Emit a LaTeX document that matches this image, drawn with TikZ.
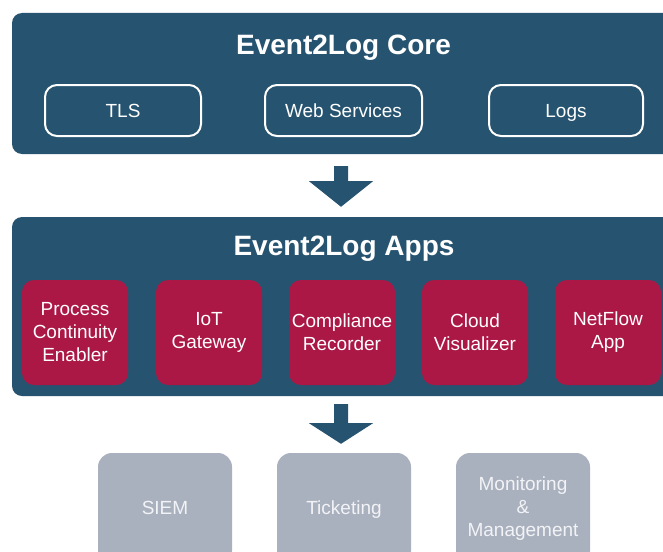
\documentclass[tikz,border=0pt]{standalone}
\usepackage{fontspec}
\setmainfont{Liberation Sans}
\usetikzlibrary{calc}
\definecolor{dblue}{HTML}{26536F}
\definecolor{crimson}{HTML}{AB1846}
\definecolor{lgray}{HTML}{AAB1BE}
\definecolor{gtext}{HTML}{F2F3F6}
\tikzset{
  layer/.style={fill=dblue, rounded corners=10pt, minimum width=668pt, inner sep=0pt},
  ltitle/.style={text=white, font=\bfseries\fontsize{28}{32}\selectfont},
  corebox/.style={draw=white, line width=2pt, rounded corners=12pt, minimum height=51pt, text=white, font=\fontsize{19}{23}\selectfont, inner sep=0pt, text height=13.6pt, text depth=0pt},
  appbox/.style={fill=crimson, rounded corners=12pt, minimum width=106pt, minimum height=105pt, text=white, align=center, font=\fontsize{19}{23}\selectfont, inner sep=0pt},
  outbox/.style={fill=lgray, rounded corners=14pt, minimum width=134pt, minimum height=112pt, inner sep=0pt},
  outlabel/.style={text=gtext, align=center, font=\fontsize{19}{23}\selectfont, inner sep=0pt},
  bigarrow/.style={fill=dblue}
}
\begin{document}
\begin{tikzpicture}[x=1pt,y=-1pt]
\clip (0,0) rectangle (663,551);
\fill[white] (0,0) rectangle (663,551);
% core layer
\node[layer, minimum height=141pt] (core) at (346,83.5) {};
\node[ltitle] (coretitle) at (343.5,47.5) {Event2Log Core};
\node[corebox, minimum width=156pt] (tls) at (123,110.5) {TLS};
\node[corebox, minimum width=157pt] (web) at (343.5,110.5) {Web Services};
\node[corebox, minimum width=154pt] (logs) at (566,110.5) {Logs};
% apps layer
\node[layer, minimum height=179pt] (apps) at (346,306.5) {};
\node[ltitle] (appstitle) at (344,248.5) {Event2Log Apps};
\node[appbox] (pce) at (75,332.5) {Process\\Continuity\\Enabler};
\node[appbox] (iot) at (209,332.5) {IoT\\Gateway};
\node[appbox] (comp) at (342,332.5) {Compliance\\Recorder};
\node[appbox] (cloud) at (475,332.5) {Cloud\\Visualizer};
\node[appbox] (nf) at (608,332.5) {NetFlow\\App};
% outputs
\node[outbox] (siem) at (165,509) {};
\node[outbox] (tick) at (344,509) {};
\node[outbox] (mon) at (523,509) {};
\node[outlabel, text height=13.6pt, text depth=0pt] (siemt) at (165,507.5) {SIEM};
\node[outlabel, text height=13.6pt, text depth=0pt] (tickt) at (344,507.5) {Ticketing};
\node[outlabel] (mont) at (523,509) {Monitoring\\\&\\Management};
% arrows
\fill[bigarrow] ($(core.south -| 341,0)+(-7,12)$) -- ++(14,0) -- ++(0,15) -- ++(25,0) -- ($(apps.north -| 341,0)+(0,-10)$) -- ($(core.south -| 341,0)+(-32,27)$) -- ++(25,0) -- cycle;
\fill[bigarrow] ($(apps.south -| 341,0)+(-7,8)$) -- ++(14,0) -- ++(0,19) -- ++(25,0) -- ($(tick.north -| 341,0)+(0,-9)$) -- ($(apps.south -| 341,0)+(-32,27)$) -- ++(25,0) -- cycle;
\end{tikzpicture}
\end{document}
